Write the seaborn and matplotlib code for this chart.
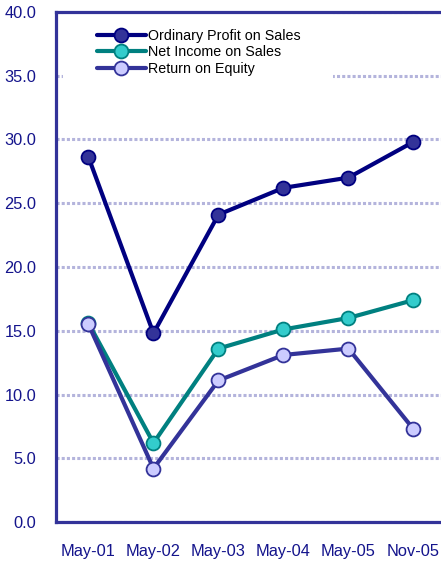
import numpy as np
import pandas as pd
import matplotlib
matplotlib.use("Agg")
import matplotlib.pyplot as plt
import seaborn as sns
from matplotlib.ticker import FixedLocator, FormatStrFormatter
from matplotlib.patches import Rectangle

# datos
periods = ["May-01", "May-02", "May-03", "May-04", "May-05", "Nov-05"]
ordinary_profit = [28.6, 14.8, 24.1, 26.2, 27.0, 29.8]
net_income = [15.6, 6.2, 13.6, 15.1, 16.0, 17.4]
return_equity = [15.5, 4.2, 11.1, 13.1, 13.6, 7.3]

series_names = ["Ordinary Profit on Sales", "Net Income on Sales", "Return on Equity"]
line_colors = ["#000080", "#008080", "#333399"]
face_colors = ["#333399", "#33CCCC", "#CCCCFF"]

df = pd.DataFrame({"period": periods,
                   series_names[0]: ordinary_profit,
                   series_names[1]: net_income,
                   series_names[2]: return_equity})

sns.set_style("white")
plt.rcParams["font.family"] = ["Liberation Sans", "DejaVu Sans"]

fig = plt.figure(figsize=(4.41, 5.62), dpi=100)
ax = fig.add_axes([0.127, 0.071, 0.884, 0.908])

for name, lc, fc in zip(series_names, line_colors, face_colors):
    sns.lineplot(data=df, x="period", y=name, ax=ax, color=lc, linewidth=3,
                 marker="o", markersize=10, markerfacecolor=fc,
                 markeredgecolor=lc, markeredgewidth=1.3, label=name, zorder=3)

ax.set_xlim(-0.5, 5.5)
ax.set_ylim(0, 40)
ax.set_xlabel("")
ax.set_ylabel("")

# ejes
for side in ["left", "bottom", "top", "right"]:
    ax.spines[side].set_color("#333399")
    ax.spines[side].set_linewidth(2.3)

ax.yaxis.set_major_locator(FixedLocator(np.arange(0, 41, 5)))
ax.yaxis.set_major_formatter(FormatStrFormatter("%.1f"))
ax.tick_params(axis="y", direction="in", length=5, width=1.5, color="#333399",
               pad=14, labelsize=11.8, labelcolor="#14148C")
ax.tick_params(axis="x", which="major", length=0, pad=16, labelsize=11.8,
               labelcolor="#14148C")
ax.xaxis.set_minor_locator(FixedLocator(np.arange(0.5, 5, 1)))
ax.tick_params(axis="x", which="minor", direction="in", length=5, width=1.5,
               color="#333399")

ax.set_axisbelow(True)
ax.yaxis.grid(True, color="#B4B4DC", linewidth=2.2, linestyle=(0, (1, 0.7)))
ax.xaxis.grid(False)

# fondo blanco de la leyenda
ax.add_patch(Rectangle((0.018, 0.85), 0.692, 0.15, transform=ax.transAxes,
                       facecolor="white", edgecolor="none", zorder=1))

leg = ax.legend(loc="upper left", bbox_to_anchor=(0.105, 0.966), frameon=False,
                fontsize=10.3, handlelength=3.43, handletextpad=0.14,
                labelspacing=0.16, borderpad=0, borderaxespad=0)
for t in leg.get_texts():
    t.set_color("black")

fig.savefig("out.png", dpi=100)
